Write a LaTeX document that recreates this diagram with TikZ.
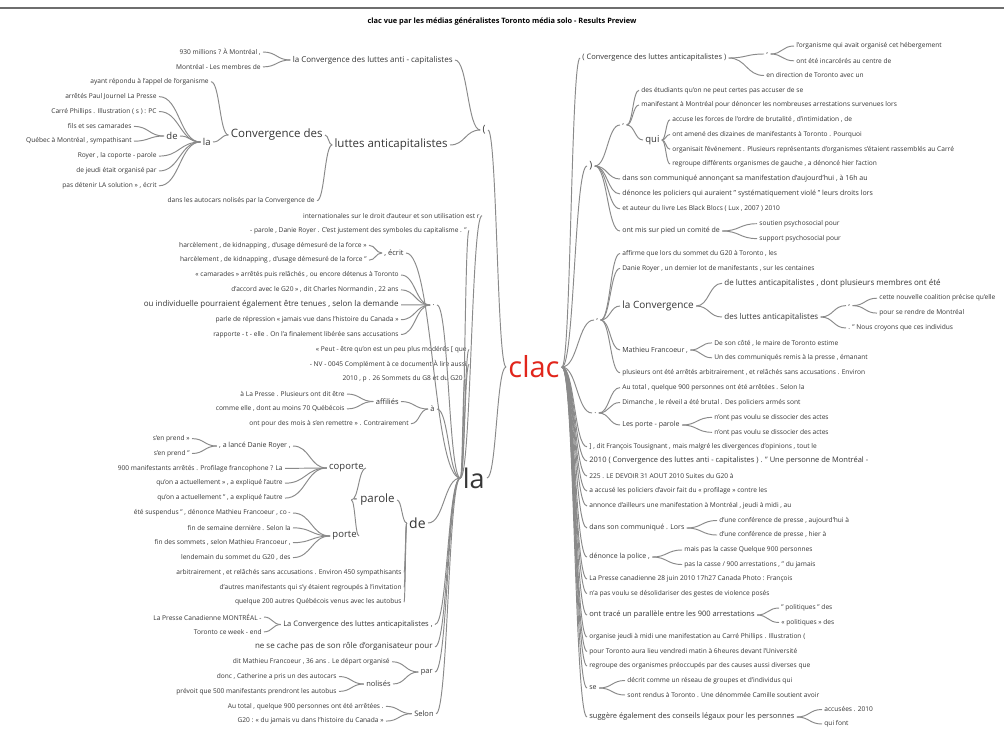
\documentclass[tikz,border=0pt]{standalone}
\usepackage{fontspec}
\setmainfont{Open Sans}
\usepackage{tikz}
\usetikzlibrary{calc}
\definecolor{ink}{HTML}{363636}
\definecolor{wire}{HTML}{8A8A8A}
\definecolor{clacred}{HTML}{E1251B}
\definecolor{rule}{HTML}{6E6E6E}
\tikzset{
  word/.style={inner ysep=1.2pt,inner xsep=2.2pt,text=ink,font=\fontsize{6.6}{7.5}\selectfont},
  wordn/.style={word,font=\fontsize{7}{8}\selectfont},
  wordm/.style={word,font=\fontsize{7.5}{8.5}\selectfont},
  wordo/.style={word,font=\fontsize{8}{9}\selectfont},
  wordk/.style={word,font=\fontsize{9.5}{11}\selectfont},
  wordl/.style={word,font=\fontsize{10}{12}\selectfont},
  wordp/.style={word,font=\fontsize{11.5}{13}\selectfont},
  wordx/.style={word,font=\fontsize{14}{16}\selectfont},
  wordxx/.style={word,font=\fontsize{27}{30}\selectfont},
  rootword/.style={word,text=clacred,font=\fontsize{29}{32}\selectfont},
  lhs/.style={anchor=east},
  rhs/.style={anchor=west},
  link/.style={draw=wire,line width=0.95pt,
    to path={let \p1=(\tikztostart),\p2=(\tikztotarget) in
      .. controls ({(\x1+\x2)/2},\y1) and ({(\x1+\x2)/2},\y2) .. (\tikztotarget)}}
}
\begin{document}
\begin{tikzpicture}[x=1pt,y=-1pt]
  \path[use as bounding box,fill=white] (0,0) rectangle (1004,737);
  \draw[rule,line width=1.2pt] (0,8) -- (1004,8);
  \node[font=\bfseries\fontsize{7.4}{9}\selectfont,text=black] (title) at (502,22) {clac vue par les médias généralistes Toronto média solo - Results Preview};
  \node[rootword] (clac) at (534,367) {clac};
  % left side
  \node[word,lhs] (l930) at (263,52) {930 millions ? À Montréal ,};
  \node[word,lhs] (lmtl) at (263,66.9) {Montréal - Les membres de};
  \node[wordo,lhs] (lconvanti) at (455,60) {la Convergence des luttes anti - capitalistes};
  \node[wordl,lhs] (lpar) at (488,130) {(};
  \node[word,lhs] (layant) at (211,81.7) {ayant répondu à l'appel de l'organisme};
  \node[word,lhs] (larretes) at (159,96.6) {arrêtés Paul Journel La Presse};
  \node[word,lhs] (lcarre) at (159,111.5) {Carré Phillips . Illustration ( s ) : PC};
  \node[word,lhs] (lfils) at (134,126.4) {fils et ses camarades};
  \node[word,lhs] (lquebec) at (134,141.2) {Québec à Montréal , sympathisant};
  \node[wordk,lhs] (lde1) at (180,136) {de};
  \node[word,lhs] (lroyer) at (159,156.1) {Royer , la coporte - parole};
  \node[word,lhs] (ljeudi) at (159,171) {de jeudi était organisé par};
  \node[word,lhs] (ldetenir) at (159,185.8) {pas détenir LA solution » , écrit};
  \node[wordk,lhs] (lla1) at (213,142) {la};
  \node[wordp,lhs] (lconvdes) at (325,135) {Convergence des};
  \node[word,lhs] (lautocars) at (317,200.7) {dans les autocars nolisés par la Convergence de};
  \node[wordp,lhs] (lluttes) at (450,145) {luttes anticapitalistes};
  \node[word,lhs] (lintl) at (482,215.6) {internationales sur le droit d'auteur et son utilisation est r};
  \node[word,lhs] (lparole) at (469,230.4) {- parole , Danie Royer . C'est justement des symboles du capitalisme . "};
  \node[word,lhs] (lharc1) at (369,245.3) {harcèlement , de kidnapping , d'usage démesuré de la force »};
  \node[word,lhs] (lharc2) at (369,260.2) {harcèlement , de kidnapping , d'usage démesuré de la force "};
  \node[wordm,lhs] (lecrit) at (406,253) {, écrit};
  \node[word,lhs] (lcamar) at (401,275) {« camarades » arrêtés puis relâchés , ou encore détenus à Toronto};
  \node[word,lhs] (laccord) at (401,289.9) {d'accord avec le G20 » , dit Charles Normandin , 22 ans};
  \node[wordo,lhs] (lindiv) at (401,304.8) {ou individuelle pourraient également être tenues , selon la demande};
  \node[word,lhs] (lparle) at (401,319.7) {parle de répression « jamais vue dans l'histoire du Canada »};
  \node[word,lhs] (lrapp) at (401,334.5) {rapporte - t - elle . On l'a finalement libérée sans accusations};
  \node[wordm,lhs] (ldot) at (437,305) {.};
  \node[word,lhs] (lpeut) at (469,349.4) {« Peut - être qu'on est un peu plus modérés [ que};
  \node[word,lhs] (lnv) at (469,364.3) {- NV - 0045 Complément à ce document À lire aussi};
  \node[word,lhs] (l2010) at (465,379.1) {2010 , p . 26 Sommets du G8 et du G20};
  \node[word,lhs] (lalapr) at (347,394) {à La Presse . Plusieurs ont dit être};
  \node[word,lhs] (lcomme) at (347,408.9) {comme elle , dont au moins 70 Québécois};
  \node[wordm,lhs] (laffil) at (401,401.5) {affiliés};
  \node[wordm,lhs] (lat) at (437,409) {à};
  \node[word,lhs] (lontpour) at (411,423.7) {ont pour des mois à s'en remettre » . Contrairement};
  \node[word,lhs] (lsen1) at (192,438.6) {s'en prend »};
  \node[word,lhs] (lsen2) at (192,453.5) {s'en prend "};
  \node[wordn,lhs] (llance) at (293,446) {, a lancé Danie Royer ,};
  \node[word,lhs] (l900) at (285,468.4) {900 manifestants arrêtés . Profilage francophone ? La};
  \node[word,lhs] (lquon1) at (285,483.2) {qu'on a actuellement » , a expliqué l'autre};
  \node[word,lhs] (lquon2) at (285,498.1) {qu'on a actuellement " , a expliqué l'autre};
  \node[wordk,lhs] (lcoporte) at (366,468) {coporte};
  \node[word,lhs] (lsusp) at (293,513) {été suspendus " , dénonce Mathieu Francoeur , co -};
  \node[word,lhs] (lfinsem) at (293,527.8) {fin de semaine dernière . Selon la};
  \node[word,lhs] (lfinsom) at (293,542.7) {fin des sommets , selon Mathieu Francoeur ,};
  \node[word,lhs] (llende) at (293,557.6) {lendemain du sommet du G20 , des};
  \node[wordk,lhs] (lporte) at (359,536) {porte};
  \node[wordp,lhs] (lpparole) at (397,500) {- parole};
  \node[wordx,lhs] (lde) at (428,523) {de};
  \node[word,lhs] (larbit) at (404,572.4) {arbitrairement , et relâchés sans accusations . Environ 450 sympathisants};
  \node[word,lhs] (lautres) at (404,587.3) {d'autres manifestants qui s'y étaient regroupés à l'invitation};
  \node[word,lhs] (lq200) at (404,602.2) {quelque 200 autres Québécois venus avec les autobus};
  \node[word,lhs] (lpcan) at (264,617) {La Presse Canadienne MONTRÉAL -};
  \node[word,lhs] (ltoronto) at (264,631.9) {Toronto ce week - end};
  \node[wordm,lhs] (lconvlac) at (435,624.5) {La Convergence des luttes anticapitalistes ,};
  \node[wordo,lhs] (lcache) at (435,646.8) {ne se cache pas de son rôle d'organisateur pour};
  \node[word,lhs] (ldit) at (392,661.7) {dit Mathieu Francoeur , 36 ans . Le départ organisé};
  \node[word,lhs] (ldonc) at (339,676.5) {donc , Catherine a pris un des autocars};
  \node[word,lhs] (lprevoit) at (339,691.4) {prévoit que 500 manifestants prendront les autobus};
  \node[wordm,lhs] (lnolises) at (393,684) {nolisés};
  \node[wordm,lhs] (lpar2) at (435,672) {par};
  \node[word,lhs] (ltotal) at (386,706.3) {Au total , quelque 900 personnes ont été arrêtées .};
  \node[word,lhs] (lg20) at (386,721.1) {G20 : « du jamais vu dans l'histoire du Canada »};
  \node[wordm,lhs] (lselon) at (436,713.7) {Selon};
  \node[wordxx,lhs] (lla) at (487,478) {la};
  % right side
  \node[wordm,rhs] (rconv) at (580,58) {( Convergence des luttes anticapitalistes )};
  \node[wordm,rhs] (rcomma1) at (764,54) {,};
  \node[word,rhs] (rorga) at (794,46) {l'organisme qui avait organisé cet hébergement};
  \node[word,rhs] (rincar) at (794,60.8) {ont été incarcérés au centre de};
  \node[word,rhs] (rdirect) at (764,75.5) {en direction de Toronto avec un};
  \node[wordl,rhs] (rclose) at (587,166) {)};
  \node[wordm,rhs] (rcomma2) at (620,125) {,};
  \node[word,rhs] (retud) at (639,90.3) {des étudiants qu'on ne peut certes pas accuser de se};
  \node[word,rhs] (rmanif) at (639,105) {manifestant à Montréal pour dénoncer les nombreuses arrestations survenues lors};
  \node[wordk,rhs] (rqui) at (643,140) {qui};
  \node[word,rhs] (raccuse) at (670,119.8) {accuse les forces de l'ordre de brutalité , d'intimidation , de};
  \node[word,rhs] (ramene) at (670,134.5) {ont amené des dizaines de manifestants à Toronto . Pourquoi};
  \node[word,rhs] (rorgani) at (670,149.3) {organisait l'événement . Plusieurs représentants d'organismes s'étaient rassemblés au Carré};
  \node[word,rhs] (rregr) at (670,164) {regroupe différents organismes de gauche , a dénoncé hier l'action};
  \node[wordn,rhs] (rcomm) at (620,179) {dans son communiqué annonçant sa manifestation d'aujourd'hui , à 16h au};
  \node[wordn,rhs] (rdenonce) at (620,193.9) {dénonce les policiers qui auraient " systématiquement violé " leurs droits lors};
  \node[word,rhs] (rauteur) at (620,208.8) {et auteur du livre Les Black Blocs ( Lux , 2007 ) 2010};
  \node[wordn,rhs] (rcomite) at (620,231) {ont mis sur pied un comité de};
  \node[word,rhs] (rsoutien) at (757,223.7) {soutien psychosocial pour};
  \node[word,rhs] (rsupport) at (757,238.6) {support psychosocial pour};
  \node[wordm,rhs] (rcomma3) at (594,320) {,};
  \node[word,rhs] (raffirme) at (620,253.5) {affirme que lors du sommet du G20 à Toronto , les};
  \node[word,rhs] (rdanie) at (620,268.4) {Danie Royer , un dernier lot de manifestants , sur les centaines};
  \node[wordl,rhs] (rlaconv) at (620,306) {la Convergence};
  \node[wordo,rhs] (rdeluttes) at (722,283.3) {de luttes anticapitalistes , dont plusieurs membres ont été};
  \node[wordo,rhs] (rdesluttes) at (722,317) {des luttes anticapitalistes};
  \node[wordm,rhs] (rcomma4) at (846,305.6) {,};
  \node[word,rhs] (rcette) at (877,298.2) {cette nouvelle coalition précise qu'elle};
  \node[word,rhs] (rpour) at (877,313.1) {pour se rendre de Montréal};
  \node[word,rhs] (rnous) at (846,328) {. " Nous croyons que ces individus};
  \node[wordn,rhs] (rmathieu) at (620,350) {Mathieu Francoeur ,};
  \node[word,rhs] (rdeson) at (712,342.9) {De son côté , le maire de Toronto estime};
  \node[word,rhs] (rundes) at (712,357.8) {Un des communiqués remis à la presse , émanant};
  \node[word,rhs] (rplusieurs) at (620,372.7) {plusieurs ont été arrêtés arbitrairement , et relâchés sans accusations . Environ};
  \node[wordm,rhs] (rdot) at (592,413) {.};
  \node[word,rhs] (rtotal) at (620,387.6) {Au total , quelque 900 personnes ont été arrêtées . Selon la};
  \node[word,rhs] (rdimanche) at (620,402.5) {Dimanche , le réveil a été brutal . Des policiers armés sont};
  \node[wordn,rhs] (rporte) at (620,425) {Les porte - parole};
  \node[word,rhs] (rvoulu1) at (712,417.4) {n'ont pas voulu se dissocier des actes};
  \node[word,rhs] (rvoulu2) at (712,432.3) {n'ont pas voulu se dissocier des actes};
  \node[word,rhs] (rdit) at (587,446.8) {] , dit François Tousignant , mais malgré les divergences d'opinions , tout le};
  \node[wordm,rhs] (r2010) at (587,461) {2010 ( Convergence des luttes anti - capitalistes ) . " Une personne de Montréal -};
  \node[word,rhs] (r225) at (587,476) {225 . LE DEVOIR 31 AOUT 2010 Suites du G20 à};
  \node[word,rhs] (raccus) at (587,491) {a accusé les policiers d'avoir fait du « profilage » contre les};
  \node[word,rhs] (rannonce) at (587,506) {annonce d'ailleurs une manifestation à Montréal , jeudi à midi , au};
  \node[wordn,rhs] (rlors) at (587,528) {dans son communiqué . Lors};
  \node[word,rhs] (rconf1) at (717,520.5) {d'une conférence de presse , aujourd'hui à};
  \node[word,rhs] (rconf2) at (717,535) {d'une conférence de presse , hier à};
  \node[wordn,rhs] (rpolice) at (587,557) {dénonce la police ,};
  \node[word,rhs] (rcasse1) at (682,550) {mais pas la casse Quelque 900 personnes};
  \node[word,rhs] (rcasse2) at (682,564.5) {pas la casse / 900 arrestations , " du jamais};
  \node[word,rhs] (rpresse) at (587,579) {La Presse canadienne 28 juin 2010 17h27 Canada Photo : François};
  \node[word,rhs] (rdesol) at (587,593.5) {n'a pas voulu se désolidariser des gestes de violence posés};
  \node[wordm,rhs] (rtrace) at (587,615) {ont tracé un parallèle entre les 900 arrestations};
  \node[word,rhs] (rpol1) at (779,608) {" politiques " des};
  \node[word,rhs] (rpol2) at (779,622.5) {« politiques » des};
  \node[word,rhs] (rorganise) at (587,637) {organise jeudi à midi une manifestation au Carré Phillips . Illustration (};
  \node[word,rhs] (rpourtor) at (587,651.5) {pour Toronto aura lieu vendredi matin à 6heures devant l'Université};
  \node[word,rhs] (rregroupe) at (587,666) {regroupe des organismes préoccupés par des causes aussi diverses que};
  \node[wordn,rhs] (rse) at (587,688) {se};
  \node[word,rhs] (rdecrit) at (625,680.5) {décrit comme un réseau de groupes et d'individus qui};
  \node[word,rhs] (rrendus) at (625,695) {sont rendus à Toronto . Une dénommée Camille soutient avoir};
  \node[wordm,rhs] (rsuggere) at (587,717) {suggère également des conseils légaux pour les personnes};
  \node[word,rhs] (raccusees) at (822,709.5) {accusées . 2010};
  \node[word,rhs] (rquifont) at (822,724) {qui font};
  % connectors
  \foreach \pa/\cs in {lconvanti/{l930,lmtl}, lpar/{lconvanti,lluttes}, lde1/{lfils,lquebec},
      lla1/{larretes,lcarre,lde1,lroyer,ljeudi,ldetenir}, lconvdes/{layant,lla1}, lluttes/{lconvdes,lautocars},
      lecrit/{lharc1,lharc2}, ldot/{lcamar,laccord,lindiv,lparle,lrapp}, laffil/{lalapr,lcomme},
      lat/{laffil,lontpour}, llance/{lsen1,lsen2}, lcoporte/{llance,l900,lquon1,lquon2},
      lporte/{lsusp,lfinsem,lfinsom,llende}, lpparole/{lcoporte,lporte}, lde/{lpparole,larbit,lautres,lq200},
      lconvlac/{lpcan,ltoronto}, lnolises/{ldonc,lprevoit}, lpar2/{ldit,lnolises}, lselon/{ltotal,lg20},
      lla/{lintl,lparole,lecrit,ldot,lpeut,lnv,l2010,lat,lde,lconvlac,lcache,lpar2,lselon}, clac/{lpar,lla}}
    \foreach \ch in \cs \draw[link] (\ch.east) to (\pa.west);
  \foreach \pa/\cs in {clac/{rconv,rclose,rcomma3,rdot,rdit,r2010,r225,raccus,rannonce,rlors,rpolice,rpresse,rdesol,rtrace,rorganise,rpourtor,rregroupe,rse,rsuggere},
      rconv/{rcomma1,rdirect}, rcomma1/{rorga,rincar}, rclose/{rcomma2,rcomm,rdenonce,rauteur,rcomite},
      rcomma2/{retud,rmanif,rqui}, rqui/{raccuse,ramene,rorgani,rregr}, rcomite/{rsoutien,rsupport},
      rcomma3/{raffirme,rdanie,rlaconv,rmathieu,rplusieurs}, rlaconv/{rdeluttes,rdesluttes},
      rdesluttes/{rcomma4,rnous}, rcomma4/{rcette,rpour}, rmathieu/{rdeson,rundes},
      rdot/{rtotal,rdimanche,rporte}, rporte/{rvoulu1,rvoulu2}, rlors/{rconf1,rconf2},
      rpolice/{rcasse1,rcasse2}, rtrace/{rpol1,rpol2}, rse/{rdecrit,rrendus}, rsuggere/{raccusees,rquifont}}
    \foreach \ch in \cs \draw[link] (\pa.east) to (\ch.west);
\end{tikzpicture}
\end{document}
